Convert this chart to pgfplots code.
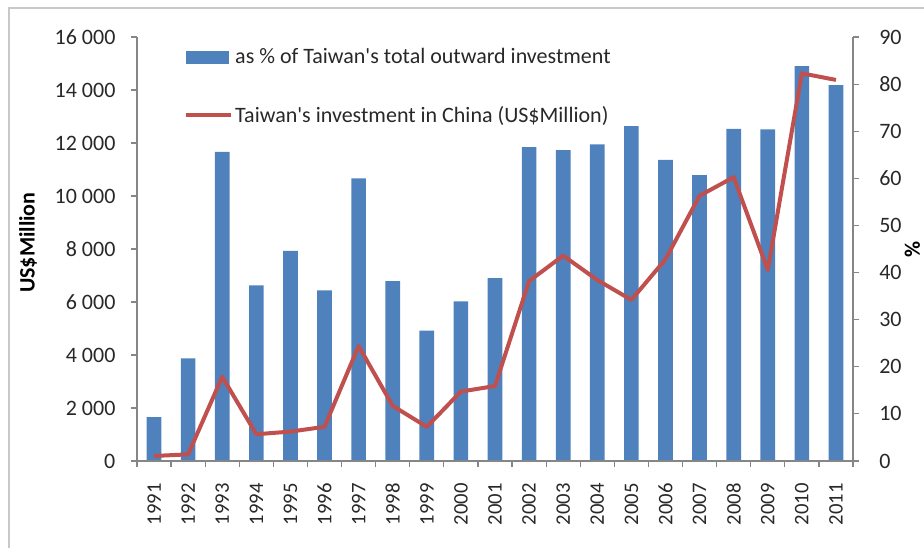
\documentclass[border=0pt]{standalone}
\usepackage{pgfplots}
\pgfplotsset{compat=1.18}
\usepackage{pgfplotstable}
\usepackage{fontspec}
\setmainfont{Carlito}
\definecolor{barblue}{RGB}{79,129,189}
\definecolor{linered}{RGB}{192,80,77}
\definecolor{axisgray}{RGB}{134,134,134}
\definecolor{framegray}{RGB}{200,200,200}
\definecolor{textgray}{RGB}{40,40,40}

\pgfplotstableread{
x year pct usd
0 1991 9.3 190
1 1992 21.8 250
2 1993 65.6 3180
3 1994 37.3 1010
4 1995 44.6 1110
5 1996 36.2 1290
6 1997 60.0 4340
7 1998 38.2 2080
8 1999 27.7 1290
9 2000 33.9 2620
10 2001 38.8 2830
11 2002 66.6 6790
12 2003 66.0 7750
13 2004 67.2 6830
14 2005 71.1 6080
15 2006 63.9 7610
16 2007 60.7 10010
17 2008 70.5 10710
18 2009 70.4 7210
19 2010 83.8 14630
20 2011 79.8 14380
}\datatable

\newcommand{\labfont}{\fontsize{16.5}{19.5}\selectfont}
\newcommand{\yearfont}{\fontsize{15.5}{18.5}\selectfont}

\pgfplotsset{
  common/.style={
    width=537pt, height=318pt, scale only axis,
    xmin=-0.5, xmax=20.5,
    tick align=outside,
    major tick length=4.5pt,
    tick style={axisgray, line width=0.9pt},
    axis line style={axisgray, line width=1.1pt, -},
    /pgf/number format/assume math mode=true,
    tick label style={font=\labfont, text=textgray},
    label style={font=\labfont\bfseries, text=black},
  },
  linelegend/.style={legend image code/.code={\draw[##1] (0pt,0pt) -- (33.75pt,0pt);}},
  barlegend/.style={legend image code/.code={\fill[barblue] (0pt,-4.5pt) rectangle (31.5pt,4.5pt);}},
}

\begin{document}
\begin{tikzpicture}
% bars: share of total outward investment, right axis
\begin{axis}[common,
  axis y line*=right,
  axis x line=none,
  ymin=0, ymax=90,
  ytick={0,10,...,90},
  yticklabel style={anchor=west, inner sep=0pt, xshift=15pt},
  ylabel={\%},
  ylabel style={at={(axis description cs:1.083,0.5)}, anchor=center, rotate=0},
]
\addplot[ybar, bar width=0.43, fill=barblue, draw=none] table[x=x, y=pct] {\datatable};
\end{axis}

% line: investment in China, left axis
\begin{axis}[common,
  axis y line*=left,
  axis x line*=bottom,
  ymin=0, ymax=16000,
  ytick={0,2000,...,16000},
  yticklabel style={anchor=east, inner sep=0pt, xshift=-11.5pt,
    /pgf/number format/.cd, 1000 sep={\ }, fixed},
  scaled y ticks=false,
  xtick={-0.5,0.5,...,20.5},
  xticklabels={},
  extra x ticks={0,1,...,20},
  extra x tick labels={1991,1992,1993,1994,1995,1996,1997,1998,1999,2000,2001,2002,2003,2004,2005,2006,2007,2008,2009,2010,2011},
  extra x tick style={major tick length=0pt,
    xticklabel style={rotate=90, anchor=east, inner sep=0pt, xshift=-16.5pt, font=\yearfont}},
  ylabel={US\$Million},
  ylabel style={at={(axis description cs:-0.1522,0.515)}, anchor=center},
  legend cell align=left,
  legend style={at={(rel axis cs:0.0656,0.979)}, anchor=north west,
    draw=none, fill=none, inner sep=0pt, font=\labfont, text=textgray,
    row sep=27.5pt,
    nodes={inner sep=1.5pt},
    /tikz/every even column/.append style={column sep=0pt}},
]
\addlegendimage{barlegend}
\addlegendentry{as \% of Taiwan\textquotesingle s total outward investment}
\addplot[linered, line width=3pt, line join=round, linelegend]
  table[x=x, y=usd] {\datatable};
\addlegendentry{Taiwan\textquotesingle s investment in China (US\$Million)}
\end{axis}

\draw[framegray, line width=1.5pt] (-96pt,-70pt) -- (-96pt,339.75pt) -- (600pt,339.75pt);
\pgfresetboundingbox
\path[use as bounding box] (-102.75pt,-64.5pt) rectangle (590.25pt,345.75pt);
\end{tikzpicture}
\end{document}
